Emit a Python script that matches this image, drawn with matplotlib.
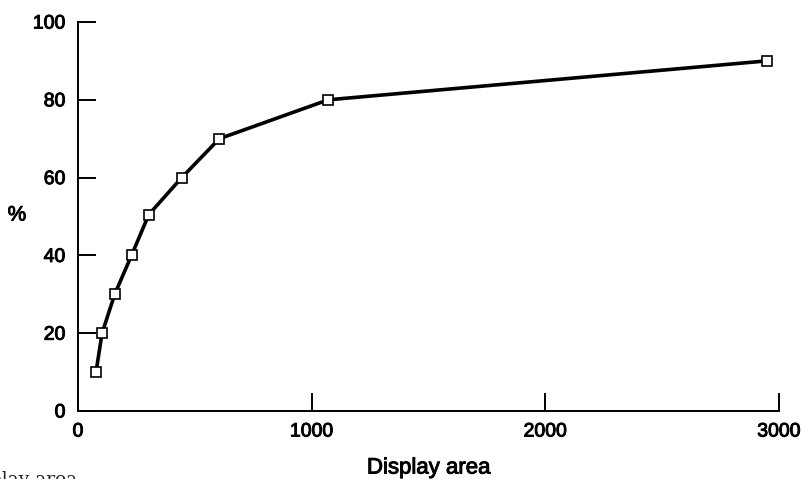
import matplotlib
matplotlib.use('Agg')
import matplotlib.pyplot as plt
import matplotlib.patheffects as pe

plt.rcParams['font.family'] = ['Liberation Sans', 'DejaVu Sans']

# display area vs cumulative percentage
area = [77, 103, 157, 229, 303, 444, 605, 1071, 2947]
pct = [10, 20, 30, 40, 50.5, 60, 70, 80, 90]
xticks = [0, 1000, 2000, 3000]
yticks = [0, 20, 40, 60, 80, 100]

# slightly heavier type, like the printed original
thick = [pe.withStroke(linewidth=0.7, foreground='black')]

fig = plt.figure(figsize=(8.04, 4.79), dpi=100)
ax = fig.add_axes([78/804, 68/479, 701/804, 389/479])

ax.plot(area, pct, '-', color='black', lw=2.6, marker='s', ms=7.5,
        mfc='white', mec='black', mew=1.2, clip_on=False, zorder=3)

ax.set_xlim(0, 3000)
ax.set_ylim(0, 100)
ax.set_xticks(xticks)
ax.set_yticks(yticks)
ax.spines['top'].set_visible(False)
ax.spines['right'].set_visible(False)
for s in ('left', 'bottom'):
    ax.spines[s].set_linewidth(1.4)
ax.tick_params(direction='in', length=13, width=1.4, labelsize=14)
ax.tick_params(axis='y', pad=9)
ax.tick_params(axis='x', pad=9)
for lab in ax.get_xticklabels() + ax.get_yticklabels():
    lab.set_path_effects(thick)

fig.text(429/804, 1 - 468/479, 'Display area', fontsize=16,
         ha='center', va='center', path_effects=thick)
fig.text(17/804, 1 - 215/479, '%', fontsize=15,
         ha='center', va='center', path_effects=thick)

# cut-off caption remnant at bottom left
fig.text(77/804, 1 - 471/479, 'Display area', family='DejaVu Serif',
         fontsize=13.5, ha='right', va='top', color='#222222')

plt.savefig('out.png', dpi=100)
